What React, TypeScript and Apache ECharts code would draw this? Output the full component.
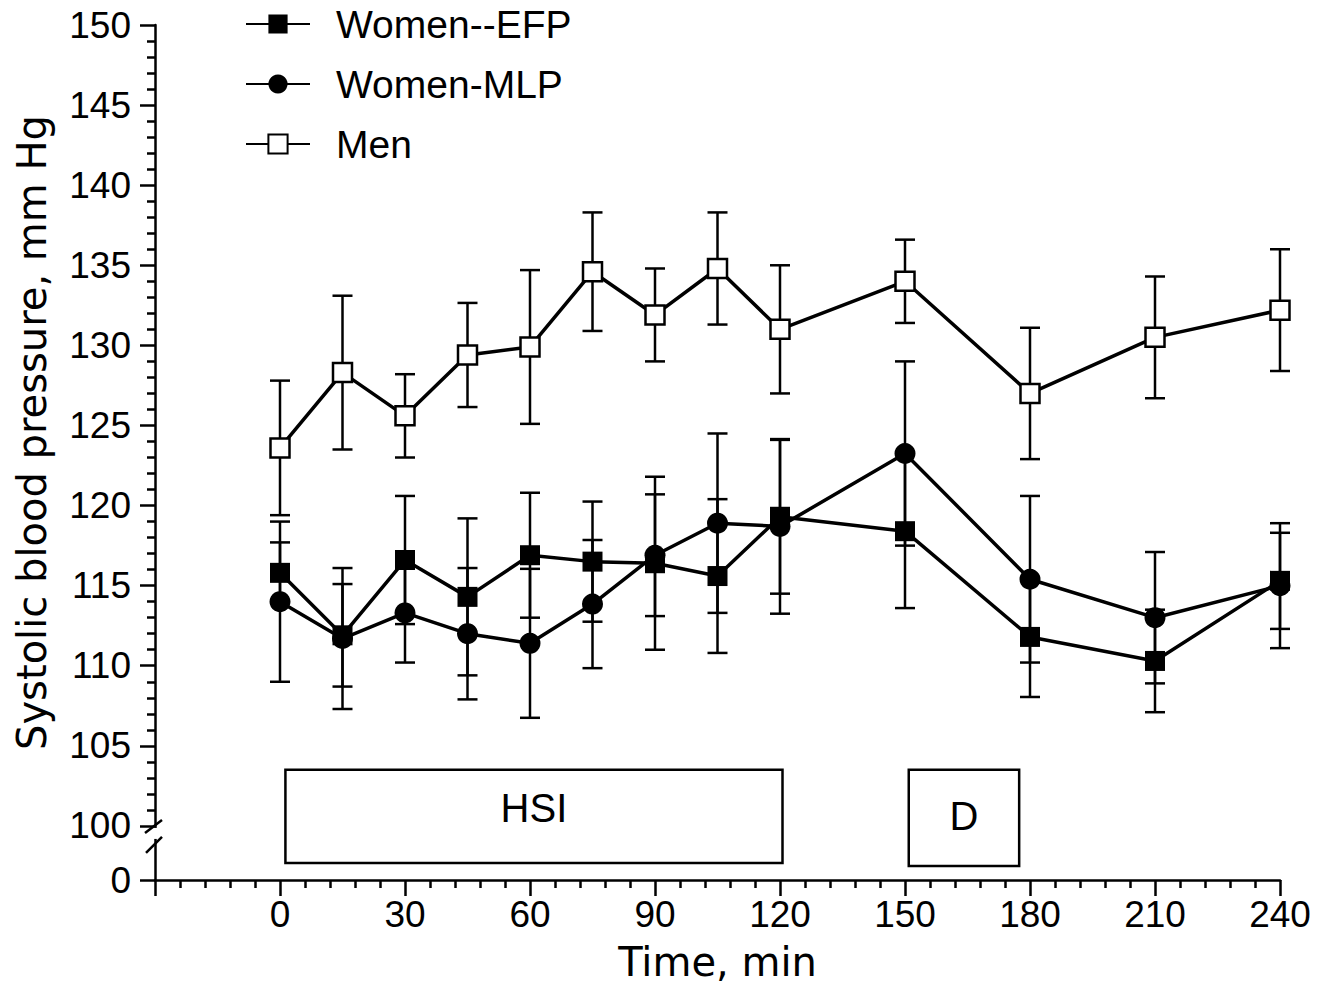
import React, { useEffect, useRef } from "react";
import * as echarts from "echarts";

// ---- data ----
const times = [0, 15, 30, 45, 60, 75, 90, 105, 120, 150, 180, 210, 240];

const womenEFP = [115.8, 111.9, 116.6, 114.3, 116.9, 116.5, 116.4, 115.6, 119.3, 118.4, 111.8, 110.3, 115.3];
const womenEFPErr = [1.9, 3.2, 4.0, 4.9, 3.9, 3.75, 5.4, 4.8, 4.8, 4.8, 3.75, 3.2, 3.0];

const womenMLP = [114.0, 111.7, 113.3, 112.0, 111.4, 113.85, 116.9, 118.9, 118.7, 123.25, 115.4, 113.0, 115.0];
const womenMLPErr = [5.0, 4.4, 3.1, 4.1, 4.65, 4.0, 3.8, 5.6, 5.45, 5.75, 5.2, 4.1, 3.9];

const men = [123.6, 128.3, 125.6, 129.4, 129.9, 134.6, 131.9, 134.8, 131.0, 134.0, 127.0, 130.5, 132.2];
const menErr = [4.2, 4.8, 2.6, 3.25, 4.8, 3.7, 2.9, 3.5, 4.0, 2.6, 4.1, 3.8, 3.8];

const seriesNames = ["Women--EFP", "Women-MLP", "Men"];

// y axis is broken: 0 is drawn just below 100
const yTickLabels = [100, 105, 110, 115, 120, 125, 130, 135, 140, 145, 150];
const Y_ZERO_POS = 96.625; // axis position where "0" is drawn
const Y_MAX = 150;

// x axis
const X_MIN = -30;
const X_MAX = 240;
const X_STEP = 30;

// protocol periods
const phases = ["HSI", "D"];
const phaseStart = [1.3, 150.9];
const phaseEnd = [120.6, 177.4];
const phaseTop = [103.5, 103.5];
const phaseBottom = [97.69, 97.5];

const FONT = "Liberation Sans";
const TITLE_FONT = "DejaVu Sans";

function pairs(vals: number[]) {
  return times.map((t, i) => [t, vals[i]]);
}
function errs(vals: number[], e: number[]) {
  return times.map((t, i) => [t, vals[i] - e[i], vals[i] + e[i]]);
}

export default function App() {
  const ref = useRef<HTMLDivElement>(null);

  useEffect(() => {
    if (!ref.current) return;
    const chart = echarts.init(ref.current, null, { renderer: "svg" });

    const minorY: number[] = [];
    for (let v = 100; v <= Y_MAX; v++) if (v % 5 !== 0) minorY.push(v);
    const majorY = [Y_ZERO_POS, ...yTickLabels];

    const errRender = (params: any, api: any) => {
      const x = api.value(0);
      const lo = api.coord([x, api.value(1)]);
      const hi = api.coord([x, api.value(2)]);
      const hw = 10;
      const st = { stroke: "#000", lineWidth: 2.5 };
      return {
        type: "group",
        children: [
          { type: "line", shape: { x1: lo[0], y1: lo[1], x2: hi[0], y2: hi[1] }, style: st },
          { type: "line", shape: { x1: lo[0] - hw, y1: lo[1], x2: lo[0] + hw, y2: lo[1] }, style: st },
          { type: "line", shape: { x1: hi[0] - hw, y1: hi[1], x2: hi[0] + hw, y2: hi[1] }, style: st },
        ],
      };
    };

    const lineStyle = { color: "#000", width: 3.5 };

    const option: any = {
      animation: false,
      backgroundColor: "#fff",
      grid: { left: 155, right: 52, top: 25, bottom: 115 },
      legend: {
        data: seriesNames,
        orient: "vertical",
        left: 245,
        top: 4,
        padding: 0,
        itemWidth: 64,
        itemHeight: 24,
        itemGap: 20,
        selectedMode: false,
        textStyle: {
          fontFamily: FONT,
          fontSize: 39,
          lineHeight: 40,
          color: "#000",
          padding: [0, 0, 0, 21],
        },
      },
      xAxis: {
        type: "value",
        min: X_MIN,
        max: X_MAX,
        interval: X_STEP,
        name: "Time, min",
        nameLocation: "middle",
        nameGap: 62,
        nameTextStyle: { fontFamily: TITLE_FONT, fontSize: 40, color: "#000" },
        axisLine: { onZero: false, lineStyle: { color: "#000", width: 2.5 } },
        axisTick: { length: 16, lineStyle: { color: "#000", width: 2.5 } },
        minorTick: { show: true, splitNumber: 5, length: 8, lineStyle: { color: "#000", width: 2.5 } },
        axisLabel: {
          fontFamily: FONT,
          fontSize: 37,
          color: "#000",
          margin: 16,
          formatter: (v: number) => (v < 0 ? "" : String(v)),
        },
        splitLine: { show: false },
      },
      yAxis: [
        {
          type: "value",
          min: Y_ZERO_POS,
          max: Y_MAX,
          position: "left",
          name: "Systolic blood pressure, mm Hg",
          nameLocation: "middle",
          nameGap: 103,
          nameTextStyle: {
            fontFamily: TITLE_FONT,
            fontSize: 40,
            color: "#000",
            padding: [0, 0, 0, 40],
          },
          axisLine: { show: true, onZero: false, lineStyle: { color: "#000", width: 2.5 } },
          axisTick: { show: true, length: 15, customValues: majorY, lineStyle: { color: "#000", width: 2.5 } },
          axisLabel: {
            fontFamily: FONT,
            fontSize: 37,
            color: "#000",
            margin: 24,
            customValues: majorY,
            formatter: (v: number) => (v < 100 ? "0" : String(Math.round(v))),
          },
          splitLine: { show: false },
        },
        {
          type: "value",
          min: Y_ZERO_POS,
          max: Y_MAX,
          position: "left",
          offset: 0,
          axisLine: { show: false, onZero: false },
          axisTick: { show: true, length: 8, customValues: minorY, lineStyle: { color: "#000", width: 2.5 } },
          axisLabel: { show: false },
          splitLine: { show: false },
        },
      ],
      series: [
        {
          type: "custom",
          name: "errEFP",
          renderItem: errRender,
          data: errs(womenEFP, womenEFPErr),
          encode: { x: 0, y: [1, 2] },
          z: 2,
          silent: true,
        },
        {
          type: "custom",
          name: "errMLP",
          renderItem: errRender,
          data: errs(womenMLP, womenMLPErr),
          encode: { x: 0, y: [1, 2] },
          z: 2,
          silent: true,
        },
        {
          type: "custom",
          name: "errMen",
          renderItem: errRender,
          data: errs(men, menErr),
          encode: { x: 0, y: [1, 2] },
          z: 2,
          silent: true,
        },
        {
          type: "line",
          name: seriesNames[0],
          data: pairs(womenEFP),
          symbol: "rect",
          symbolSize: 20,
          lineStyle,
          itemStyle: { color: "#000" },
          z: 4,
          silent: true,
          markArea: {
            silent: true,
            itemStyle: { color: "#fff", borderColor: "#000", borderWidth: 2.5 },
            label: { position: "inside", color: "#000", fontFamily: FONT, fontSize: 40 },
            data: phases.map((p, i) => [
              { name: p, xAxis: phaseStart[i], yAxis: phaseTop[i], label: { offset: [0, i === 0 ? -8 : -2] } },
              { xAxis: phaseEnd[i], yAxis: phaseBottom[i] },
            ]),
          },
        },
        {
          type: "line",
          name: seriesNames[1],
          data: pairs(womenMLP),
          symbol: "circle",
          symbolSize: 21,
          lineStyle,
          itemStyle: { color: "#000" },
          z: 4,
          silent: true,
        },
        {
          type: "line",
          name: seriesNames[2],
          data: pairs(men),
          symbol: "rect",
          symbolSize: 19,
          lineStyle,
          itemStyle: { color: "#fff", borderColor: "#000", borderWidth: 2.5 },
          z: 4,
          silent: true,
        },
      ],
    };

    chart.setOption(option);

    // axis break marks
    const p = chart.convertToPixel({ xAxisIndex: 0, yAxisIndex: 0 }, [X_MIN, 100]) as number[];
    const ax = p[0];
    const y100 = p[1];
    chart.setOption({
      graphic: [
        { type: "rect", z: 100, shape: { x: ax - 4, y: y100 + 2, width: 8, height: 11 }, style: { fill: "#fff" } },
        { type: "line", z: 101, shape: { x1: ax - 10, y1: y100 + 7, x2: ax + 7, y2: y100 - 6 }, style: { stroke: "#000", lineWidth: 2.5 } },
        { type: "line", z: 101, shape: { x1: ax - 9, y1: y100 + 27, x2: ax + 7, y2: y100 + 11 }, style: { stroke: "#000", lineWidth: 2.5 } },
      ],
    });

    return () => chart.dispose();
  }, []);

  return (
    <div
      ref={ref}
      style={{ position: "fixed", left: 0, top: 0, width: 1332, height: 995, background: "#fff" }}
    />
  );
}
